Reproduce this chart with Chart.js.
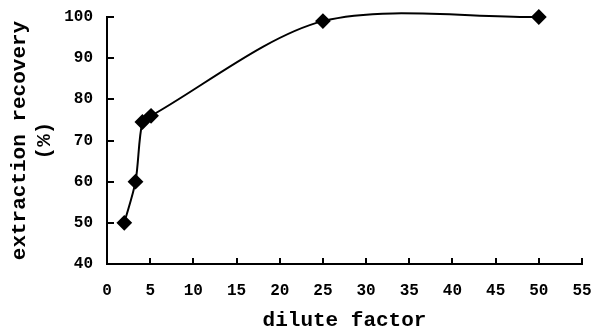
<!DOCTYPE html>
<html>
<head>
<meta charset="utf-8">
<script src="https://cdn.jsdelivr.net/npm/chart.js@4"></script>
<style>
  html, body { margin: 0; padding: 0; background: #fff; }
  #wrap { width: 595px; height: 328px; }
</style>
</head>
<body>
<div id="wrap"><canvas id="chart" width="595" height="328"></canvas></div>
<script>
// Data
const diluteFactor = [2, 3.3, 4.1, 5.1, 25, 50];
const recovery     = [50, 60, 74.5, 76, 99, 100];

const xTicks = [0, 5, 10, 15, 20, 25, 30, 35, 40, 45, 50, 55];
const yTicks = [40, 50, 60, 70, 80, 90, 100];

const FONT = 'Liberation Mono, DejaVu Sans Mono, monospace';
const INK  = '#000';

// small tick marks pointing into the plot, like the original
const innerTicks = {
  id: 'innerTicks',
  afterDraw(chart) {
    const { ctx, chartArea: a, scales } = chart;
    ctx.save();
    ctx.strokeStyle = INK;
    ctx.lineWidth = 2;
    ctx.beginPath();
    scales.x.ticks.forEach((t, i) => {
      const px = Math.round(scales.x.getPixelForTick(i));
      ctx.moveTo(px, a.bottom);
      ctx.lineTo(px, a.bottom - 6);
    });
    scales.y.ticks.forEach((t, i) => {
      const py = Math.round(scales.y.getPixelForTick(i));
      ctx.moveTo(a.left, py);
      ctx.lineTo(a.left + 7, py);
    });
    ctx.stroke();
    ctx.restore();
  },
};

new Chart(document.getElementById('chart'), {
  type: 'scatter',
  data: {
    datasets: [{
      data: diluteFactor.map((x, i) => ({ x, y: recovery[i] })),
      showLine: true,
      borderColor: INK,
      backgroundColor: INK,
      borderWidth: 2,
      tension: 0.3,
      capBezierPoints: false,
      pointStyle: 'rectRot',
      pointRadius: 6.5,
      pointHoverRadius: 6.5,
      clip: false,
    }],
  },
  options: {
    animation: false,
    responsive: false,
    devicePixelRatio: 1,
    layout: { padding: { top: 17, right: 13, left: 0, bottom: 0 } },
    plugins: { legend: { display: false }, tooltip: { enabled: false } },
    scales: {
      x: {
        type: 'linear',
        min: 0, max: 55,
        afterBuildTicks: (s) => { s.ticks = xTicks.map(v => ({ value: v })); },
        afterFit: (s) => { s.height = 64; s.paddingLeft = 0; s.paddingRight = 0; },
        grid: { display: false, drawTicks: false },
        border: { display: true, color: INK, width: 2 },
        ticks: { color: INK, font: { family: FONT, size: 16, weight: 'bold' }, padding: 17, maxRotation: 0 },
        title: {
          display: true, text: 'dilute factor', color: INK,
          font: { family: FONT, size: 21, weight: 'bold' },
          padding: { top: 0, bottom: -5 },
        },
      },
      y: {
        type: 'linear',
        min: 40, max: 100,
        afterBuildTicks: (s) => { s.ticks = yTicks.map(v => ({ value: v })); },
        afterFit: (s) => { s.width = 107; s.paddingTop = 0; s.paddingBottom = 0; },
        grid: { display: false, drawTicks: false },
        border: { display: true, color: INK, width: 2 },
        ticks: { color: INK, font: { family: FONT, size: 16, weight: 'bold' }, padding: 14 },
        title: {
          display: true, text: ['extraction recovery', '(%)'], color: INK,
          font: { family: FONT, size: 21, weight: 'bold' },
          padding: { top: 7, bottom: 0 },
        },
      },
    },
  },
  plugins: [innerTicks],
});
</script>
</body>
</html>
